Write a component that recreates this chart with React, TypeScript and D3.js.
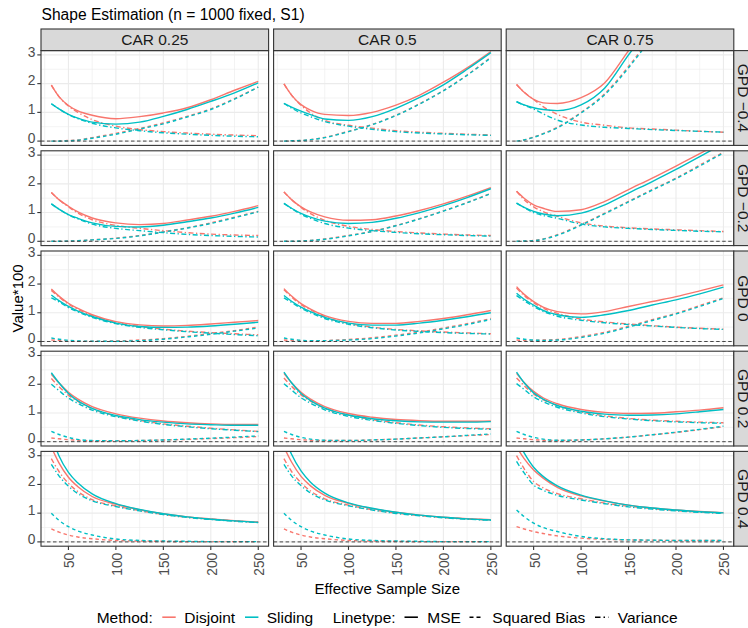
import React from "react";
import * as d3 from "d3";

// ---------- data ----------
const sampleSizes = [32, 40, 50, 60, 75, 100, 125, 150, 175, 200, 225, 250];
const carLabels = ["CAR 0.25", "CAR 0.5", "CAR 0.75"];
const gpdLabels = ["GPD \u22120.4", "GPD \u22120.2", "GPD 0", "GPD 0.2", "GPD 0.4"];
const xTicks = [50, 100, 150, 200, 250];
const xMinorTicks = [25, 75, 125, 175, 225];
const yTicks = [0, 1, 2, 3];
const yMinorTicks = [0.5, 1.5, 2.5];
const methods = ["Disjoint", "Sliding"];
const linetypes = ["MSE", "Squared Bias", "Variance"];

// panel order: row (GPD) major, column (CAR) minor
const mseDisjoint = [
  [1.95, 1.55, 1.24, 1.05, 0.9, 0.78, 0.85, 0.98, 1.16, 1.44, 1.77, 2.08],
  [1.99, 1.6, 1.27, 1.08, 0.93, 0.89, 1.0, 1.25, 1.6, 2.05, 2.55, 3.12],
  [1.97, 1.7, 1.45, 1.33, 1.31, 1.51, 2.03, 3.15, 4.3, 5.6, 7.0, 8.5],
  [1.7, 1.45, 1.22, 1.02, 0.81, 0.64, 0.58, 0.62, 0.74, 0.87, 1.04, 1.24],
  [1.72, 1.45, 1.2, 1.02, 0.85, 0.73, 0.75, 0.88, 1.07, 1.3, 1.57, 1.87],
  [1.74, 1.5, 1.27, 1.15, 1.04, 1.1, 1.39, 1.8, 2.2, 2.62, 3.05, 3.5],
  [1.83, 1.58, 1.33, 1.15, 0.93, 0.69, 0.58, 0.54, 0.56, 0.61, 0.67, 0.73],
  [1.84, 1.58, 1.32, 1.13, 0.9, 0.7, 0.63, 0.63, 0.7, 0.8, 0.93, 1.08],
  [1.91, 1.64, 1.39, 1.2, 1.04, 0.96, 1.04, 1.22, 1.39, 1.56, 1.76, 1.97],
  [2.35, 2.05, 1.72, 1.48, 1.22, 0.97, 0.82, 0.72, 0.66, 0.62, 0.6, 0.6],
  [2.38, 2.05, 1.72, 1.48, 1.22, 0.98, 0.85, 0.77, 0.73, 0.71, 0.71, 0.72],
  [2.38, 2.06, 1.75, 1.53, 1.32, 1.12, 1.02, 0.98, 0.99, 1.04, 1.1, 1.18],
  [3.3, 2.75, 2.25, 1.92, 1.58, 1.31, 1.12, 0.98, 0.87, 0.8, 0.74, 0.69],
  [3.3, 2.78, 2.28, 1.95, 1.62, 1.34, 1.16, 1.03, 0.93, 0.86, 0.81, 0.77],
  [3.3, 2.9, 2.5, 2.22, 1.9, 1.6, 1.42, 1.28, 1.18, 1.11, 1.06, 1.02],
];
const mseSliding = [
  [1.3, 1.12, 0.93, 0.8, 0.66, 0.59, 0.66, 0.86, 1.1, 1.38, 1.68, 2.03],
  [1.31, 1.18, 1.04, 0.92, 0.77, 0.72, 0.85, 1.14, 1.52, 1.96, 2.5, 3.08],
  [1.37, 1.26, 1.16, 1.1, 1.06, 1.26, 1.85, 3.0, 4.1, 5.3, 6.7, 8.1],
  [1.3, 1.12, 0.93, 0.8, 0.64, 0.52, 0.5, 0.56, 0.68, 0.81, 0.98, 1.18],
  [1.32, 1.15, 0.97, 0.84, 0.7, 0.62, 0.66, 0.8, 1.0, 1.24, 1.52, 1.83],
  [1.33, 1.18, 1.04, 0.95, 0.89, 0.98, 1.27, 1.68, 2.08, 2.5, 2.95, 3.4],
  [1.62, 1.42, 1.22, 1.06, 0.87, 0.64, 0.52, 0.49, 0.5, 0.54, 0.6, 0.67],
  [1.6, 1.4, 1.2, 1.04, 0.84, 0.64, 0.57, 0.57, 0.64, 0.74, 0.86, 1.0],
  [1.68, 1.47, 1.27, 1.08, 0.93, 0.84, 0.93, 1.08, 1.27, 1.45, 1.66, 1.89],
  [2.4, 2.05, 1.68, 1.42, 1.16, 0.91, 0.77, 0.68, 0.62, 0.59, 0.57, 0.57],
  [2.42, 2.05, 1.68, 1.43, 1.17, 0.93, 0.8, 0.73, 0.69, 0.68, 0.68, 0.7],
  [2.42, 2.05, 1.7, 1.48, 1.26, 1.06, 0.96, 0.92, 0.93, 0.97, 1.04, 1.12],
  [3.7, 3.0, 2.42, 2.05, 1.67, 1.33, 1.13, 0.98, 0.87, 0.79, 0.73, 0.68],
  [3.7, 3.05, 2.47, 2.08, 1.7, 1.36, 1.17, 1.03, 0.93, 0.86, 0.8, 0.76],
  [3.6, 3.1, 2.6, 2.28, 1.95, 1.63, 1.43, 1.28, 1.18, 1.11, 1.05, 1.01],
];
const biasDisjoint = [
  [0, 0, 0.02, 0.04, 0.12, 0.27, 0.44, 0.63, 0.86, 1.12, 1.48, 1.88],
  [0, 0.01, 0.02, 0.05, 0.13, 0.34, 0.58, 0.9, 1.3, 1.76, 2.3, 2.92],
  [0, 0.04, 0.14, 0.26, 0.48, 1.0, 1.65, 2.6, 3.7, 5.0, 6.4, 7.9],
  [0, 0, 0.01, 0.02, 0.05, 0.11, 0.2, 0.33, 0.47, 0.64, 0.84, 1.04],
  [0, 0, 0.01, 0.03, 0.08, 0.2, 0.35, 0.55, 0.79, 1.06, 1.35, 1.67],
  [0, 0.01, 0.03, 0.08, 0.23, 0.58, 0.98, 1.39, 1.8, 2.2, 2.65, 3.1],
  [0.05, 0.04, 0.02, 0.01, 0.01, 0.02, 0.05, 0.1, 0.18, 0.28, 0.38, 0.5],
  [0.05, 0.04, 0.03, 0.02, 0.03, 0.07, 0.13, 0.22, 0.33, 0.47, 0.62, 0.8],
  [0.05, 0.04, 0.04, 0.05, 0.07, 0.17, 0.32, 0.53, 0.76, 0.98, 1.25, 1.52],
  [0.13, 0.1, 0.07, 0.05, 0.03, 0.03, 0.04, 0.06, 0.08, 0.11, 0.14, 0.18],
  [0.13, 0.1, 0.07, 0.05, 0.04, 0.04, 0.06, 0.09, 0.13, 0.17, 0.21, 0.25],
  [0.13, 0.1, 0.07, 0.05, 0.04, 0.06, 0.1, 0.16, 0.24, 0.32, 0.42, 0.52],
  [0.45, 0.34, 0.24, 0.17, 0.11, 0.05, 0.03, 0.02, 0.01, 0.01, 0.01, 0.01],
  [0.45, 0.34, 0.24, 0.17, 0.11, 0.05, 0.03, 0.02, 0.01, 0.01, 0.01, 0.01],
  [0.53, 0.45, 0.36, 0.29, 0.21, 0.13, 0.09, 0.07, 0.06, 0.05, 0.05, 0.05],
];
const biasSliding = [
  [0, 0, 0.01, 0.03, 0.1, 0.24, 0.42, 0.6, 0.84, 1.1, 1.46, 1.88],
  [0, 0.01, 0.02, 0.05, 0.12, 0.33, 0.57, 0.89, 1.29, 1.75, 2.29, 2.9],
  [0, 0.04, 0.13, 0.25, 0.46, 0.98, 1.62, 2.55, 3.65, 4.9, 6.3, 7.8],
  [0, 0, 0.01, 0.02, 0.05, 0.1, 0.19, 0.32, 0.46, 0.62, 0.82, 1.03],
  [0, 0, 0.01, 0.03, 0.07, 0.19, 0.34, 0.54, 0.78, 1.05, 1.34, 1.66],
  [0, 0.01, 0.02, 0.07, 0.21, 0.56, 0.96, 1.37, 1.78, 2.18, 2.62, 3.08],
  [0.12, 0.08, 0.04, 0.02, 0.01, 0.01, 0.03, 0.08, 0.16, 0.25, 0.36, 0.47],
  [0.12, 0.08, 0.04, 0.03, 0.03, 0.05, 0.1, 0.19, 0.3, 0.44, 0.59, 0.77],
  [0.12, 0.08, 0.05, 0.04, 0.05, 0.14, 0.29, 0.5, 0.73, 0.96, 1.22, 1.5],
  [0.36, 0.25, 0.15, 0.08, 0.04, 0.03, 0.04, 0.06, 0.09, 0.12, 0.16, 0.2],
  [0.36, 0.25, 0.15, 0.09, 0.05, 0.04, 0.06, 0.09, 0.13, 0.17, 0.22, 0.27],
  [0.36, 0.25, 0.15, 0.09, 0.05, 0.06, 0.1, 0.16, 0.24, 0.33, 0.43, 0.54],
  [1.0, 0.75, 0.53, 0.38, 0.24, 0.1, 0.05, 0.03, 0.02, 0.01, 0.01, 0.01],
  [1.0, 0.75, 0.53, 0.38, 0.24, 0.1, 0.05, 0.03, 0.02, 0.01, 0.01, 0.01],
  [1.11, 0.88, 0.65, 0.5, 0.36, 0.19, 0.11, 0.07, 0.06, 0.05, 0.05, 0.05],
];
const varDisjoint = [
  [1.95, 1.55, 1.22, 1.0, 0.75, 0.52, 0.4, 0.33, 0.28, 0.24, 0.21, 0.19],
  [1.99, 1.6, 1.25, 0.98, 0.72, 0.55, 0.45, 0.36, 0.31, 0.27, 0.24, 0.21],
  [1.97, 1.7, 1.45, 1.2, 0.93, 0.66, 0.55, 0.46, 0.42, 0.38, 0.34, 0.31],
  [1.7, 1.45, 1.2, 0.98, 0.75, 0.55, 0.45, 0.37, 0.3, 0.25, 0.22, 0.2],
  [1.72, 1.45, 1.18, 0.96, 0.73, 0.52, 0.41, 0.34, 0.29, 0.25, 0.22, 0.2],
  [1.74, 1.45, 1.2, 1.03, 0.87, 0.64, 0.53, 0.47, 0.43, 0.4, 0.37, 0.34],
  [1.78, 1.55, 1.3, 1.12, 0.9, 0.66, 0.52, 0.43, 0.36, 0.31, 0.27, 0.23],
  [1.8, 1.55, 1.28, 1.1, 0.86, 0.63, 0.5, 0.42, 0.37, 0.33, 0.3, 0.27],
  [1.86, 1.6, 1.35, 1.16, 0.98, 0.78, 0.68, 0.61, 0.55, 0.5, 0.46, 0.43],
  [2.2, 1.92, 1.62, 1.4, 1.15, 0.9, 0.74, 0.62, 0.54, 0.47, 0.41, 0.36],
  [2.22, 1.93, 1.63, 1.41, 1.16, 0.92, 0.77, 0.66, 0.58, 0.52, 0.48, 0.45],
  [2.22, 1.95, 1.66, 1.46, 1.26, 1.04, 0.9, 0.81, 0.75, 0.71, 0.68, 0.66],
  [2.9, 2.45, 2.04, 1.75, 1.47, 1.25, 1.09, 0.96, 0.86, 0.79, 0.73, 0.68],
  [2.9, 2.45, 2.06, 1.77, 1.5, 1.28, 1.12, 1.0, 0.92, 0.85, 0.8, 0.76],
  [3.0, 2.55, 2.1, 1.88, 1.68, 1.5, 1.35, 1.24, 1.16, 1.09, 1.04, 1.0],
];
const varSliding = [
  [1.3, 1.12, 0.92, 0.78, 0.62, 0.46, 0.36, 0.29, 0.24, 0.2, 0.17, 0.15],
  [1.31, 1.15, 0.98, 0.85, 0.68, 0.52, 0.41, 0.33, 0.28, 0.25, 0.22, 0.2],
  [1.37, 1.25, 1.12, 0.95, 0.73, 0.56, 0.48, 0.44, 0.4, 0.37, 0.34, 0.31],
  [1.3, 1.12, 0.92, 0.78, 0.6, 0.45, 0.37, 0.3, 0.24, 0.2, 0.17, 0.15],
  [1.32, 1.14, 0.94, 0.8, 0.62, 0.46, 0.37, 0.31, 0.26, 0.23, 0.2, 0.18],
  [1.33, 1.17, 1.0, 0.9, 0.8, 0.6, 0.5, 0.45, 0.41, 0.38, 0.35, 0.33],
  [1.52, 1.38, 1.18, 1.03, 0.84, 0.62, 0.49, 0.41, 0.34, 0.29, 0.24, 0.2],
  [1.52, 1.36, 1.16, 1.0, 0.8, 0.6, 0.48, 0.4, 0.35, 0.31, 0.28, 0.26],
  [1.6, 1.42, 1.22, 1.05, 0.88, 0.74, 0.65, 0.59, 0.54, 0.49, 0.45, 0.42],
  [2.0, 1.78, 1.52, 1.33, 1.1, 0.87, 0.72, 0.6, 0.52, 0.45, 0.4, 0.35],
  [2.02, 1.8, 1.53, 1.34, 1.11, 0.88, 0.74, 0.64, 0.56, 0.5, 0.46, 0.43],
  [2.02, 1.82, 1.56, 1.39, 1.2, 1.0, 0.87, 0.79, 0.73, 0.69, 0.66, 0.64],
  [2.7, 2.3, 1.94, 1.68, 1.43, 1.23, 1.08, 0.95, 0.85, 0.78, 0.72, 0.67],
  [2.7, 2.3, 1.96, 1.7, 1.46, 1.26, 1.11, 0.99, 0.91, 0.84, 0.79, 0.75],
  [2.8, 2.4, 1.98, 1.8, 1.62, 1.46, 1.33, 1.22, 1.14, 1.08, 1.03, 0.99],
];

// ---------- style ----------
const RED = "#F8766D";
const CYAN = "#00BFC4";
const FONT = "'Liberation Sans', Arial, Helvetica, sans-serif";
const DASH_BIAS = "3.5,3";
const DASH_VAR = "5,2.5,1.3,2.5";
const LINE_W = 1.4;

export default function App() {
  const W = 748;
  const H = 628;
  const panelW = 227.6;
  const panelH = 94.8;
  const colGap = 5;
  const rowGap = 5.4;
  const left0 = 41;
  const top0 = 50.6;
  const stripH = 21.6;

  const x = d3
    .scaleLinear()
    .domain([32 - 0.05 * 218, 250 + 0.05 * 218])
    .range([0, panelW]);
  const y = d3.scaleLinear().domain([-0.15, 3.15]).range([panelH, 0]);
  const line = d3
    .line<number>()
    .x((_, i) => x(sampleSizes[i]))
    .y((d) => y(d))
    .curve(d3.curveMonotoneX);

  const seriesDefs = [
    { data: mseDisjoint, color: RED, dash: undefined as string | undefined },
    { data: biasDisjoint, color: RED, dash: DASH_BIAS },
    { data: varDisjoint, color: RED, dash: DASH_VAR },
    { data: mseSliding, color: CYAN, dash: undefined },
    { data: biasSliding, color: CYAN, dash: DASH_BIAS },
    { data: varSliding, color: CYAN, dash: DASH_VAR },
  ];

  const colX = (c: number) => left0 + c * (panelW + colGap);
  const rowY = (r: number) => top0 + r * (panelH + rowGap);
  const bottom = rowY(4) + panelH;
  const plotCenterX = (colX(0) + colX(2) + panelW) / 2;
  const plotCenterY = (top0 + bottom) / 2;

  const panels: JSX.Element[] = [];
  for (let r = 0; r < gpdLabels.length; r++) {
    for (let c = 0; c < carLabels.length; c++) {
      const idx = r * carLabels.length + c;
      const px = colX(c);
      const py = rowY(r);
      panels.push(
        <g key={`p${idx}`} transform={`translate(${px},${py})`}>
          <defs>
            <clipPath id={`clip${idx}`}>
              <rect x={0} y={0} width={panelW} height={panelH} />
            </clipPath>
          </defs>
          <rect x={0} y={0} width={panelW} height={panelH} fill="#FFFFFF" />
          {yMinorTicks.map((t) => (
            <line key={`ym${t}`} x1={0} x2={panelW} y1={y(t)} y2={y(t)} stroke="#EBEBEB" strokeWidth={0.6} />
          ))}
          {xMinorTicks.map((t) => (
            <line key={`xm${t}`} x1={x(t)} x2={x(t)} y1={0} y2={panelH} stroke="#EBEBEB" strokeWidth={0.6} />
          ))}
          {yTicks.map((t) => (
            <line key={`yM${t}`} x1={0} x2={panelW} y1={y(t)} y2={y(t)} stroke="#EBEBEB" strokeWidth={1.1} />
          ))}
          {xTicks.map((t) => (
            <line key={`xM${t}`} x1={x(t)} x2={x(t)} y1={0} y2={panelH} stroke="#EBEBEB" strokeWidth={1.1} />
          ))}
          <g clipPath={`url(#clip${idx})`}>
            {seriesDefs.map((s, si) => (
              <path
                key={`s${si}`}
                d={line(s.data[idx]) || ""}
                fill="none"
                stroke={s.color}
                strokeWidth={LINE_W}
                strokeDasharray={s.dash}
              />
            ))}
            <line
              x1={0}
              x2={panelW}
              y1={y(0)}
              y2={y(0)}
              stroke="#444444"
              strokeWidth={1}
              strokeDasharray="3.5,2.5"
            />
          </g>
          <rect x={0} y={0} width={panelW} height={panelH} fill="none" stroke="#333333" strokeWidth={1.1} />
        </g>
      );
    }
  }

  // top strips
  const topStrips = carLabels.map((lab, c) => (
    <g key={`ts${c}`}>
      <rect x={colX(c)} y={top0 - stripH} width={panelW} height={stripH} fill="#D9D9D9" stroke="#333333" strokeWidth={1.1} />
      <text x={colX(c) + panelW / 2} y={top0 - stripH + 16} textAnchor="middle" fontSize={15.5} fill="#1A1A1A" fontFamily={FONT}>
        {lab}
      </text>
    </g>
  ));

  // right strips
  const rightX = colX(2) + panelW;
  const rightStrips = gpdLabels.map((lab, r) => (
    <g key={`rs${r}`}>
      <rect x={rightX} y={rowY(r)} width={stripH} height={panelH} fill="#D9D9D9" stroke="#333333" strokeWidth={1.1} />
      <text
        transform={`translate(${rightX + 4.6},${rowY(r) + panelH / 2}) rotate(90)`}
        textAnchor="middle"
        fontSize={15.5}
        fill="#1A1A1A"
        fontFamily={FONT}
      >
        {lab}
      </text>
    </g>
  ));

  // y axes (one per row)
  const yAxes = gpdLabels.map((_, r) => (
    <g key={`ya${r}`} transform={`translate(${left0},${rowY(r)})`}>
      {yTicks.map((t) => (
        <g key={t}>
          <line x1={-3.7} x2={0} y1={y(t)} y2={y(t)} stroke="#333333" strokeWidth={1.1} />
          <text x={-5.5} y={y(t) + 1.8} textAnchor="end" fontSize={13.8} fill="#4D4D4D" fontFamily={FONT}>
            {t}
          </text>
        </g>
      ))}
    </g>
  ));

  // x axes (one per column)
  const xAxes = carLabels.map((_, c) => (
    <g key={`xa${c}`} transform={`translate(${colX(c)},${bottom})`}>
      {xTicks.map((t) => (
        <g key={t}>
          <line x1={x(t)} x2={x(t)} y1={0} y2={3.7} stroke="#333333" strokeWidth={1.1} />
          <text
            transform={`translate(${x(t) + 1},${6.5}) rotate(-90)`}
            textAnchor="end"
            dy="0.36em"
            fontSize={13.8}
            fill="#4D4D4D"
            fontFamily={FONT}
          >
            {t}
          </text>
        </g>
      ))}
    </g>
  ));

  // legend
  const legendY = 617.2;
  const legendBase = 622.8;
  const keyLen = 13.4;
  const methodKeys = [
    { x0: 162.3, tx: 184.3, color: RED, label: methods[0] },
    { x0: 245, tx: 266.7, color: CYAN, label: methods[1] },
  ];
  const typeKeys = [
    { x0: 404.5, tx: 427.3, dash: undefined as string | undefined, label: linetypes[0] },
    { x0: 469.5, tx: 492.3, dash: "4,3", label: linetypes[1] },
    { x0: 595, tx: 617.7, dash: "5.5,3,1.5,3", label: linetypes[2] },
  ];

  return (
    <svg
      width={W}
      height={H}
      viewBox={`0 0 ${W} ${H}`}
      style={{ position: "absolute", left: 0, top: 0, background: "#FFFFFF" }}
      fontFamily={FONT}
    >
      <rect x={0} y={0} width={W} height={H} fill="#FFFFFF" />
      <text x={41.5} y={20} fontSize={15.6} fill="#000000">
        Shape Estimation (n = 1000 fixed, S1)
      </text>
      {panels}
      {topStrips}
      {rightStrips}
      {yAxes}
      {xAxes}
      <text x={plotCenterX} y={594.3} textAnchor="middle" fontSize={15} fill="#000000">
        Effective Sample Size
      </text>
      <text transform={`translate(23.3,${plotCenterY}) rotate(-90)`} textAnchor="middle" fontSize={15} fill="#000000">
        Value*100
      </text>
      <text x={96.7} y={legendBase} fontSize={15.5} fill="#000000">
        Method:
      </text>
      {methodKeys.map((k) => (
        <g key={k.label}>
          <line x1={k.x0} x2={k.x0 + keyLen} y1={legendY} y2={legendY} stroke={k.color} strokeWidth={1.6} />
          <text x={k.tx} y={legendBase} fontSize={15.5} fill="#000000">
            {k.label}
          </text>
        </g>
      ))}
      <text x={332.7} y={legendBase} fontSize={15.5} fill="#000000">
        Linetype:
      </text>
      {typeKeys.map((k) => (
        <g key={k.label}>
          <line
            x1={k.x0}
            x2={k.x0 + keyLen}
            y1={legendY}
            y2={legendY}
            stroke="#000000"
            strokeWidth={1.6}
            strokeDasharray={k.dash}
          />
          <text x={k.tx} y={legendBase} fontSize={15.5} fill="#000000">
            {k.label}
          </text>
        </g>
      ))}
    </svg>
  );
}
